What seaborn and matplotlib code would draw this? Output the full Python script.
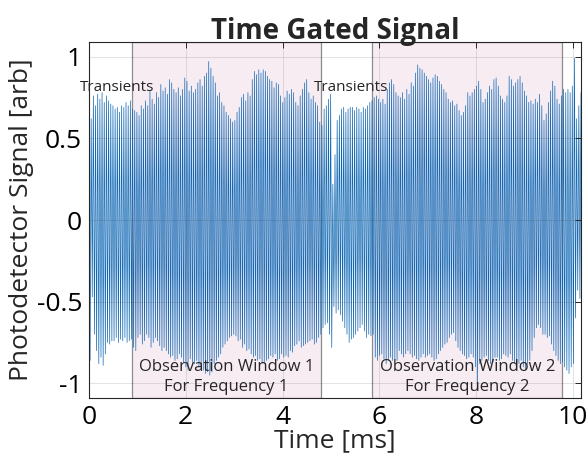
import numpy as np
import pandas as pd
import matplotlib
matplotlib.use("Agg")
import matplotlib.pyplot as plt
import seaborn as sns

# Photodetector trace: one positive and one negative excursion per cycle
cycle_step_ms = 0.045

peak_hi = [
    0.57, 0.62, 0.76, 0.70, 0.77, 0.74, 0.78, 0.72, 0.76, 0.73, 0.71,
    0.70, 0.68, 0.69, 0.66, 0.70, 0.69, 0.72, 0.70, 0.73, 0.68, 0.67,
    0.66, 0.64, 0.70, 0.68, 0.73, 0.70, 0.79, 0.74, 0.71, 0.78, 0.75,
    0.83, 0.79, 0.81, 0.77, 0.86, 0.84, 0.80, 0.78, 0.81, 0.76, 0.80,
    0.87, 0.85, 0.79, 0.82, 0.78, 0.80, 0.84, 0.86, 0.82, 0.88, 0.90,
    0.97, 0.93, 0.88, 0.84, 0.76, 0.78, 0.72, 0.70, 0.66, 0.64, 0.62,
    0.60, 0.61, 0.66, 0.69, 0.75, 0.77, 0.73, 0.78, 0.76, 0.86, 0.91,
    0.89, 0.92, 0.90, 0.92, 0.91, 0.88, 0.86, 0.85, 0.81, 0.84, 0.83,
    0.76, 0.72, 0.75, 0.79, 0.77, 0.80, 0.78, 0.72, 0.70, 0.76, 0.80,
    0.84, 0.86, 0.78, 0.74, 0.76, 0.72, 0.70, 0.60, 0.58, 0.68, 0.70,
    0.74, 0.77, 0.22, 0.40, 0.61, 0.64, 0.68, 0.69, 0.66, 0.68, 0.69,
    0.69, 0.67, 0.69, 0.68, 0.66, 0.69, 0.68, 0.70, 0.72, 0.73, 0.75,
    0.76, 0.74, 0.72, 0.74, 0.71, 0.80, 0.84, 0.86, 0.83, 0.78, 0.76,
    0.75, 0.78, 0.74, 0.80, 0.77, 0.84, 0.82, 0.90, 0.95, 0.93, 0.92,
    0.90, 0.88, 0.86, 0.84, 0.87, 0.89, 0.88, 0.85, 0.83, 0.80, 0.78,
    0.74, 0.72, 0.73, 0.70, 0.71, 0.67, 0.64, 0.66, 0.70, 0.78, 0.76,
    0.78, 0.80, 0.82, 0.85, 0.80, 0.72, 0.74, 0.78, 0.82, 0.80, 0.86,
    0.87, 0.82, 0.76, 0.74, 0.72, 0.76, 0.88, 0.86, 0.82, 0.84, 0.86,
    0.88, 0.84, 0.79, 0.76, 0.72, 0.73, 0.71, 0.74, 0.72, 0.77, 0.70,
    0.61, 0.65, 0.72, 0.79, 0.85, 0.82, 0.74, 0.71, 0.76, 0.80, 0.78,
    0.80, 0.78, 0.82, 0.99, 0.62, 0.70, 0.78,
]

peak_lo = [
    -0.86, -0.47, -0.70, -0.80, -0.88, -0.84, -0.89, -0.82, -0.75, -0.76, -0.74,
    -0.74, -0.72, -0.75, -0.73, -0.74, -0.72, -0.75, -0.74, -0.73, -0.78, -0.80,
    -0.72, -0.70, -0.76, -0.74, -0.70, -0.72, -0.78, -0.75, -0.72, -0.74, -0.77,
    -0.80, -0.78, -0.80, -0.82, -0.84, -0.83, -0.86, -0.85, -0.82, -0.84, -0.87,
    -0.90, -0.92, -0.85, -0.87, -0.88, -0.86, -0.90, -0.89, -0.92, -0.94, -0.93,
    -0.95, -0.93, -0.88, -0.86, -0.84, -0.82, -0.78, -0.76, -0.74, -0.72, -0.71,
    -0.70, -0.71, -0.74, -0.73, -0.78, -0.76, -0.80, -0.79, -0.82, -0.84, -0.83,
    -0.86, -0.85, -0.88, -0.87, -0.86, -0.85, -0.83, -0.84, -0.82, -0.86, -0.85,
    -0.82, -0.84, -0.83, -0.84, -0.80, -0.81, -0.77, -0.76, -0.74, -0.78, -0.77,
    -0.76, -0.75, -0.74, -0.73, -0.76, -0.75, -0.72, -0.70, -0.66, -0.64, -0.63,
    -0.70, -0.78, -0.53, -0.57, -0.55, -0.58, -0.62, -0.66, -0.70, -0.75, -0.73,
    -0.72, -0.70, -0.68, -0.66, -0.64, -0.68, -0.72, -0.70, -0.71, -0.70, -0.84,
    -0.86, -0.83, -0.82, -0.85, -0.88, -0.86, -0.84, -0.86, -0.85, -0.86, -0.80,
    -0.82, -0.84, -0.82, -0.80, -0.82, -0.84, -0.83, -0.85, -0.86, -0.84, -0.82,
    -0.84, -0.83, -0.82, -0.84, -0.86, -0.85, -0.82, -0.80, -0.78, -0.76, -0.75,
    -0.72, -0.70, -0.69, -0.74, -0.78, -0.80, -0.82, -0.83, -0.85, -0.84, -0.82,
    -0.84, -0.90, -1.00, -0.88, -0.86, -0.84, -0.83, -0.86, -0.88, -0.87, -0.84,
    -0.84, -0.86, -0.85, -0.82, -0.83, -0.84, -0.82, -0.86, -0.88, -0.90, -0.88,
    -0.86, -0.90, -0.92, -0.88, -0.86, -0.80, -0.72, -0.66, -0.64, -0.66, -0.70,
    -0.70, -0.72, -0.71, -0.76, -0.80, -0.83, -0.86, -0.88, -0.87, -0.90, -0.92,
    -0.94, -0.90, -0.88, -0.60, -0.43, -0.48, -0.51,
]

# Observation windows (ms)
window_starts = [0.88, 5.86]
window_ends = [4.80, 9.78]
window_labels = ["Observation Window 1\nFor Frequency 1",
                 "Observation Window 2\nFor Frequency 2"]
transient_labels = ["Transients", "Transients"]

x_ticks = [0, 2, 4, 6, 8, 10]
y_ticks = [-1, -0.5, 0, 0.5, 1]
y_tick_labels = ["-1", "-0.5", "0", "0.5", "1"]

# interleave the positive and negative excursions into one trace
n = len(peak_hi)
t_cycle = np.arange(n) * cycle_step_ms
times = np.empty(2 * n)
values = np.empty(2 * n)
times[0::2] = t_cycle
times[1::2] = t_cycle + cycle_step_ms / 2
values[0::2] = peak_hi
values[1::2] = peak_lo
trace = pd.DataFrame({"time": times, "signal": values})

sns.set_theme(style="white")
plt.rcParams["font.family"] = ["Open Sans", "DejaVu Sans"]

fig = plt.figure(figsize=(5.87, 4.55), dpi=100)
ax = fig.add_axes([89 / 587, 1 - 398 / 455, (581 - 89) / 587, (398 - 42) / 455])

for x0, x1 in zip(window_starts, window_ends):
    ax.axvspan(x0, x1, facecolor="#f8ecf3", edgecolor="#8c8c8c",
               linewidth=0.9, zorder=0)

sns.lineplot(data=trace, x="time", y="signal", sort=False, estimator=None,
             color="#1068b4", linewidth=0.5, ax=ax, zorder=2)

ax.set_xlim(0, 10.17)
ax.set_ylim(-1.09, 1.09)
ax.set_xticks(x_ticks)
ax.set_xticklabels([str(v) for v in x_ticks])
ax.set_yticks(y_ticks)
ax.set_yticklabels(y_tick_labels)

ax.grid(True, color="#262626", alpha=0.15, linewidth=0.6)
ax.set_axisbelow(False)
for sp in ax.spines.values():
    sp.set_color("#262626")
    sp.set_linewidth(0.8)
    sp.set_zorder(5)
ax.tick_params(direction="in", top=True, right=True, length=4, width=0.7,
               color="#262626", labelsize=19, pad=5, labelcolor="black")

ax.set_xlabel("Time [ms]", fontsize=19, labelpad=-1)
ax.set_ylabel("Photodetector Signal [arb]", fontsize=19, labelpad=2)
ax.set_title("Time Gated Signal", fontsize=20, fontweight="bold", pad=2)

# annotations
for x0, lbl in zip([0.58, 5.42], transient_labels):
    ax.text(x0, 0.81, lbl, ha="center", va="center", fontsize=11, zorder=6)
for x0, x1, lbl in zip(window_starts, window_ends, window_labels):
    ax.text((x0 + x1) / 2, -0.96, lbl, ha="center", va="center",
            fontsize=12, linespacing=1.3, zorder=6)

fig.savefig("out.png", dpi=100)
